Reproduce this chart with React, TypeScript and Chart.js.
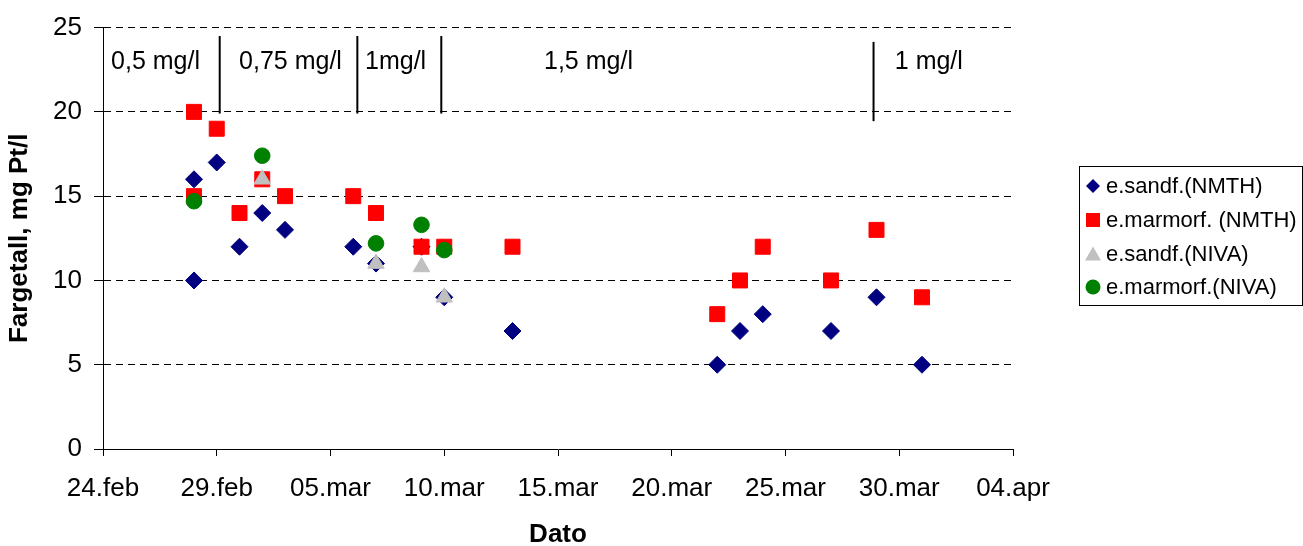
import React, { useEffect, useRef } from "react";
import { Chart, registerables } from "chart.js";

Chart.register(...registerables);

// ---- Data ----
const BASE_DATE = "2008-02-24";
const tickDays = [0, 5, 10, 15, 20, 25, 30, 35, 40];
const tickLabels = ["24.feb", "29.feb", "05.mar", "10.mar", "15.mar", "20.mar", "25.mar", "30.mar", "04.apr"];
const yTicks = [0, 5, 10, 15, 20, 25];

const nmthDates = [
  "2008-02-28", "2008-02-28", "2008-02-29", "2008-03-01", "2008-03-02", "2008-03-03",
  "2008-03-06", "2008-03-07", "2008-03-09", "2008-03-10", "2008-03-13", "2008-03-22",
  "2008-03-23", "2008-03-24", "2008-03-27", "2008-03-29", "2008-03-31",
];
const sandfNMTH = [16, 10, 17, 12, 14, 13, 12, 11, 12, 9, 7, 5, 7, 8, 7, 9, 5];
const marmorfNMTH = [20, 15, 19, 14, 16, 15, 15, 14, 12, 12, 12, 8, 10, 12, 10, 13, 9];

const sandfNIVADates = ["2008-03-02", "2008-03-07", "2008-03-09", "2008-03-10"];
const sandfNIVA = [16, 11, 10.8, 9];

const marmorfNIVADates = ["2008-02-28", "2008-03-02", "2008-03-07", "2008-03-09", "2008-03-10"];
const marmorfNIVA = [14.7, 17.4, 12.2, 13.3, 11.8];

const seriesLabels = ["e.sandf.(NMTH)", "e.marmorf. (NMTH)", "e.sandf.(NIVA)", "e.marmorf.(NIVA)"];
const seriesColors = ["#000080", "#FF0000", "#C0C0C0", "#008000"];
const seriesStyles = ["rectRot", "rect", "triangle", "circle"];

// dose-period separators (day offset, top value, bottom value)
const separatorDays = [5.13, 11.18, 14.87, 33.87];
const separatorTops = [24.5, 24.5, 24.5, 24.15];
const separatorBottoms = [19.9, 19.9, 19.9, 19.45];

// dose labels (text, centre day offset, value)
const doseLabels = ["0,5 mg/l", "0,75 mg/l", "1mg/l", "1,5 mg/l", "1 mg/l"];
const doseLabelDays = [2.31, 8.24, 12.86, 21.34, 36.3];
const doseLabelValue = 22.95;

const FONT = "'Liberation Sans', Arial, Helvetica, sans-serif";

function dayOffset(date: string): number {
  const [y, m, d] = date.split("-").map(Number);
  const [by, bm, bd] = BASE_DATE.split("-").map(Number);
  return (Date.UTC(y, m - 1, d) - Date.UTC(by, bm - 1, bd)) / 86400000;
}

function toPoints(dates: string[], values: number[]) {
  return dates.map((d, i) => ({ x: dayOffset(d), y: values[i] }));
}

const annotationPlugin = {
  id: "doseAnnotations",
  afterDatasetsDraw(chart: any) {
    const { ctx, scales } = chart;
    const xs = scales.x;
    const ys = scales.y;
    ctx.save();
    ctx.strokeStyle = "#000";
    ctx.lineWidth = 2;
    separatorDays.forEach((d, i) => {
      const x = xs.getPixelForValue(d);
      ctx.beginPath();
      ctx.moveTo(x, ys.getPixelForValue(separatorTops[i]));
      ctx.lineTo(x, ys.getPixelForValue(separatorBottoms[i]));
      ctx.stroke();
    });
    ctx.fillStyle = "#000";
    ctx.font = `25px ${FONT}`;
    ctx.textAlign = "center";
    ctx.textBaseline = "middle";
    doseLabels.forEach((t, i) => {
      ctx.fillText(t, xs.getPixelForValue(doseLabelDays[i]), ys.getPixelForValue(doseLabelValue));
    });
    ctx.restore();
  },
};

function drawMarker(ctx: CanvasRenderingContext2D, style: string, x: number, y: number, color: string) {
  ctx.fillStyle = color;
  ctx.beginPath();
  if (style === "rectRot") {
    const r = 7;
    ctx.moveTo(x - r, y);
    ctx.lineTo(x, y - r);
    ctx.lineTo(x + r, y);
    ctx.lineTo(x, y + r);
    ctx.closePath();
  } else if (style === "rect") {
    ctx.rect(x - 7, y - 7, 14, 14);
  } else if (style === "triangle") {
    ctx.moveTo(x, y - 7);
    ctx.lineTo(x + 8, y + 7);
    ctx.lineTo(x - 8, y + 7);
    ctx.closePath();
  } else {
    ctx.arc(x, y, 7.5, 0, Math.PI * 2);
  }
  ctx.fill();
}

const boxLegendPlugin = {
  id: "boxLegend",
  afterDraw(chart: any) {
    const { ctx } = chart;
    const left = 1079.5;
    const top = 166.5;
    const w = 223;
    const h = 139;
    ctx.save();
    ctx.strokeStyle = "#000";
    ctx.lineWidth = 1;
    ctx.strokeRect(left, top, w, h);
    ctx.font = `22px ${FONT}`;
    ctx.textAlign = "left";
    ctx.textBaseline = "middle";
    const rows = [186, 220, 253.5, 287];
    chart.data.datasets.forEach((ds: any, i: number) => {
      drawMarker(ctx, seriesStyles[i], 1093, rows[i], seriesColors[i]);
      ctx.fillStyle = "#000";
      ctx.fillText(ds.label, 1106, rows[i] + 1);
    });
    ctx.restore();
  },
};

export default function App() {
  const canvasRef = useRef<HTMLCanvasElement | null>(null);

  useEffect(() => {
    document.body.style.margin = "0";
    const canvas = canvasRef.current;
    if (!canvas) return;
    const radii = [8.5, 10.6, 9.5, 7.8];
    const pointSets = [
      toPoints(nmthDates, sandfNMTH),
      toPoints(nmthDates, marmorfNMTH),
      toPoints(sandfNIVADates, sandfNIVA),
      toPoints(marmorfNIVADates, marmorfNIVA),
    ];
    const orders = [4, 3, 2, 1];
    const chart = new Chart(canvas, {
      type: "scatter",
      data: {
        datasets: pointSets.map((pts, i) => ({
          label: seriesLabels[i],
          data: pts,
          order: orders[i],
          pointStyle: seriesStyles[i] as any,
          pointRadius: radii[i],
          pointHoverRadius: radii[i],
          pointBackgroundColor: seriesColors[i],
          pointBorderColor: seriesColors[i],
          pointBorderWidth: 1,
          backgroundColor: seriesColors[i],
          borderColor: seriesColors[i],
          showLine: false,
        })),
      },
      options: {
        animation: false,
        responsive: false,
        devicePixelRatio: 1,
        events: [],
        layout: { padding: { top: 24, right: 290, bottom: 0, left: 0 } },
        plugins: {
          legend: { display: false },
          tooltip: { enabled: false },
        },
        scales: {
          x: {
            type: "linear",
            min: tickDays[0],
            max: tickDays[tickDays.length - 1],
            afterBuildTicks: (scale: any) => {
              scale.ticks = tickDays.map((v) => ({ value: v }));
            },
            ticks: {
              autoSkip: false,
              maxRotation: 0,
              padding: 17,
              color: "#000",
              font: { family: FONT, size: 26 },
              callback: (v: any) => tickLabels[tickDays.indexOf(Number(v))] ?? "",
            },
            grid: {
              display: true,
              drawOnChartArea: false,
              drawTicks: true,
              tickLength: 7,
              tickColor: "#000",
              color: "#000",
            },
            border: { display: true, color: "#000", width: 1 },
            title: {
              display: true,
              text: "Dato",
              color: "#000",
              font: { family: FONT, size: 26, weight: "bold", lineHeight: 1 },
              padding: { top: 0, bottom: -2 },
            },
            afterFit: (scale: any) => {
              scale.height = 97;
            },
          },
          y: {
            min: yTicks[0],
            max: yTicks[yTicks.length - 1],
            afterBuildTicks: (scale: any) => {
              scale.ticks = yTicks.map((v) => ({ value: v }));
            },
            ticks: {
              padding: 12,
              color: "#000",
              font: { family: FONT, size: 26 },
            },
            grid: {
              display: true,
              drawOnChartArea: true,
              drawTicks: true,
              tickLength: 9,
              tickColor: "#000",
              color: "#000",
              lineWidth: 1,
            },
            border: { display: true, color: "#000", width: 1, dash: [7, 5] },
            title: {
              display: true,
              text: "Fargetall, mg Pt/l",
              color: "#000",
              font: { family: FONT, size: 26, weight: "bold", lineHeight: 1 },
              padding: { top: 7, bottom: 0 },
            },
            afterFit: (scale: any) => {
              scale.width = 103;
            },
          },
        },
      } as any,
      plugins: [annotationPlugin, boxLegendPlugin],
    });
    return () => chart.destroy();
  }, []);

  return (
    <div style={{ width: 1303, height: 546 }}>
      <canvas ref={canvasRef} width={1303} height={546} style={{ display: "block", width: 1303, height: 546 }} />
    </div>
  );
}
